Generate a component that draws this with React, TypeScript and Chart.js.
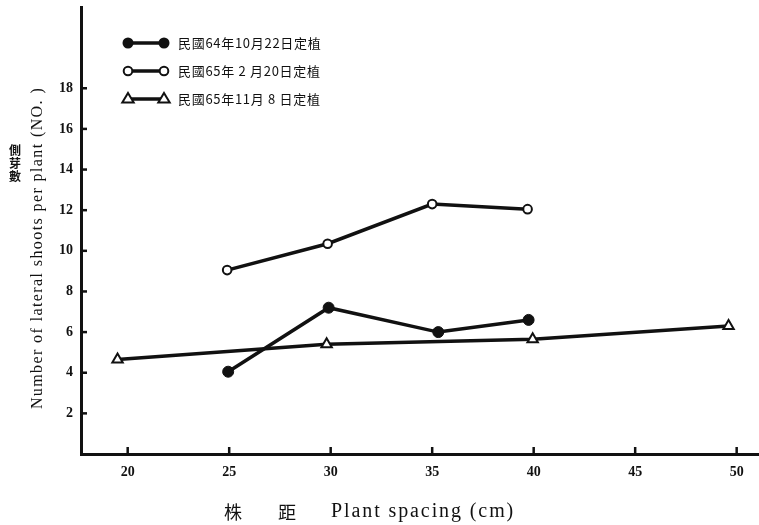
import React, { useEffect, useRef } from 'react';
import { Chart, registerables } from 'chart.js';

Chart.register(...registerables);

// ---- data ----
const xTicks = [20, 25, 30, 35, 40, 45, 50];
const yTicks = [2, 4, 6, 8, 10, 12, 14, 16, 18];

const seriesLabels = ['民國64年10月22日定植', '民國65年 2 月20日定植', '民國65年11月 8 日定植'];

const s1X = [24.95, 29.9, 35.3, 39.75];
const s1Y = [4.05, 7.2, 6.0, 6.6];

const s2X = [24.9, 29.85, 35.0, 39.7];
const s2Y = [9.05, 10.35, 12.3, 12.05];

const s3X = [19.5, 29.8, 39.95, 49.6];
const s3Y = [4.65, 5.4, 5.65, 6.3];

const yTitle = 'Number of lateral shoots per plant (NO. )';
const yTitleCn = ['側', '芽', '數'];
const xTitleCn = ['株', '距'];
const xTitleEn = 'Plant spacing (cm)';

const toPts = (xs: number[], ys: number[]) => xs.map((x, i) => ({ x, y: ys[i] }));

const INK = '#111';

function drawMarker(ctx: CanvasRenderingContext2D, kind: number, x: number, y: number) {
  ctx.save();
  ctx.lineWidth = 2;
  ctx.strokeStyle = INK;
  if (kind === 0) {
    ctx.fillStyle = INK;
    ctx.beginPath();
    ctx.arc(x, y, 5.5, 0, Math.PI * 2);
    ctx.fill();
  } else if (kind === 1) {
    ctx.fillStyle = '#fff';
    ctx.beginPath();
    ctx.arc(x, y, 4.3, 0, Math.PI * 2);
    ctx.fill();
    ctx.stroke();
  } else {
    ctx.fillStyle = '#fff';
    const r = 6;
    ctx.beginPath();
    ctx.moveTo(x, y - r);
    ctx.lineTo(x + r * 0.95, y + r * 0.6);
    ctx.lineTo(x - r * 0.95, y + r * 0.6);
    ctx.closePath();
    ctx.fill();
    ctx.stroke();
  }
  ctx.restore();
}

const zeroPad = (s: any) => {
  s.paddingLeft = 0;
  s.paddingRight = 0;
  s.paddingTop = 0;
  s.paddingBottom = 0;
};

const decorPlugin = {
  id: 'decor',
  afterDraw(chart: any) {
    const ctx: CanvasRenderingContext2D = chart.ctx;
    const xs = chart.scales.x;
    const ys = chart.scales.y;
    const area = chart.chartArea;
    ctx.save();
    ctx.strokeStyle = INK;
    ctx.lineWidth = 2.5;
    // inward tick marks
    yTicks.forEach((v) => {
      const py = ys.getPixelForValue(v);
      ctx.beginPath();
      ctx.moveTo(area.left, py);
      ctx.lineTo(area.left + 6, py);
      ctx.stroke();
    });
    xTicks.forEach((v) => {
      const px = xs.getPixelForValue(v);
      ctx.beginPath();
      ctx.moveTo(px, area.bottom);
      ctx.lineTo(px, area.bottom - 7);
      ctx.stroke();
    });

    // legend
    const rowsY = [43, 71, 99];
    seriesLabels.forEach((lab, i) => {
      const y = rowsY[i];
      ctx.lineWidth = 3.5;
      ctx.beginPath();
      ctx.moveTo(128, y);
      ctx.lineTo(164, y);
      ctx.stroke();
      drawMarker(ctx, i, 128, y);
      drawMarker(ctx, i, 164, y);
      ctx.fillStyle = INK;
      ctx.font = '13px "Noto Sans CJK TC", "Liberation Serif"';
      (ctx as any).letterSpacing = '0.7px';
      ctx.textAlign = 'left';
      ctx.textBaseline = 'middle';
      ctx.fillText(lab, 178, y);
      (ctx as any).letterSpacing = '0px';
    });

    // y title
    ctx.save();
    ctx.translate(38, 248);
    ctx.rotate(-Math.PI / 2);
    ctx.fillStyle = INK;
    ctx.font = '16px "Liberation Serif"';
    (ctx as any).letterSpacing = '1.4px';
    ctx.textAlign = 'center';
    ctx.textBaseline = 'middle';
    ctx.fillText(yTitle, 0, 0);
    ctx.restore();

    // vertical chinese y title
    ctx.fillStyle = INK;
    ctx.font = 'bold 12px "Noto Sans CJK TC"';
    ctx.textAlign = 'center';
    ctx.textBaseline = 'middle';
    yTitleCn.forEach((c, i) => ctx.fillText(c, 15, 150 + i * 13));

    // x title
    ctx.font = '18px "Noto Sans CJK TC"';
    ctx.fillText(xTitleCn[0], 233, 512);
    ctx.fillText(xTitleCn[1], 287, 512);
    ctx.font = '20px "Liberation Serif"';
    (ctx as any).letterSpacing = '1.9px';
    ctx.textAlign = 'left';
    ctx.fillText(xTitleEn, 331, 512);
    ctx.restore();
  },
};

export default function App() {
  const ref = useRef<HTMLCanvasElement | null>(null);
  useEffect(() => {
    document.body.style.margin = '0';
    const canvas = ref.current;
    if (!canvas) return;
    const tickFont = { family: '"Liberation Serif"', weight: 'bold' as const, size: 14 };
    const chart = new Chart(canvas, {
      type: 'line',
      data: {
        datasets: [
          {
            label: seriesLabels[0],
            data: toPts(s1X, s1Y),
            borderColor: INK,
            borderWidth: 3.5,
            pointStyle: 'circle',
            pointRadius: 5.5,
            pointBackgroundColor: INK,
            pointBorderColor: INK,
            pointBorderWidth: 1,
            tension: 0,
          },
          {
            label: seriesLabels[1],
            data: toPts(s2X, s2Y),
            borderColor: INK,
            borderWidth: 3.5,
            pointStyle: 'circle',
            pointRadius: 4.3,
            pointBackgroundColor: '#fff',
            pointBorderColor: INK,
            pointBorderWidth: 2,
            tension: 0,
          },
          {
            label: seriesLabels[2],
            data: toPts(s3X, s3Y),
            borderColor: INK,
            borderWidth: 3.5,
            pointStyle: 'triangle',
            pointRadius: 6,
            pointBackgroundColor: '#fff',
            pointBorderColor: INK,
            pointBorderWidth: 2,
            tension: 0,
          },
        ],
      },
      options: {
        responsive: false,
        animation: false,
        layout: { autoPadding: false, padding: { top: 7, left: 0, right: 0, bottom: 0 } },
        plugins: { legend: { display: false }, tooltip: { enabled: false }, title: { display: false } },
        scales: {
          x: {
            type: 'linear',
            min: 17.7,
            max: 51.1,
            afterBuildTicks: (s: any) => {
              s.ticks = xTicks.map((v) => ({ value: v }));
            },
            afterFit: (s: any) => {
              s.height = 71;
              zeroPad(s);
            },
            grid: { display: false, drawTicks: false },
            border: { display: true, width: 3, color: INK },
            ticks: { font: tickFont, color: INK, padding: 10, maxRotation: 0, autoSkip: false },
          },
          y: {
            type: 'linear',
            min: 0,
            max: 22,
            afterBuildTicks: (s: any) => {
              s.ticks = yTicks.map((v) => ({ value: v }));
            },
            afterFit: (s: any) => {
              s.width = 81;
              zeroPad(s);
            },
            grid: { display: false, drawTicks: false },
            border: { display: true, width: 3, color: INK },
            ticks: { font: tickFont, color: INK, padding: 8, autoSkip: false },
          },
        },
      },
      plugins: [decorPlugin],
    });
    return () => chart.destroy();
  }, []);
  return (
    <div style={{ position: 'fixed', left: 0, top: 0, width: 759, height: 525, background: '#fff' }}>
      <canvas ref={ref} width={759} height={525} />
    </div>
  );
}
